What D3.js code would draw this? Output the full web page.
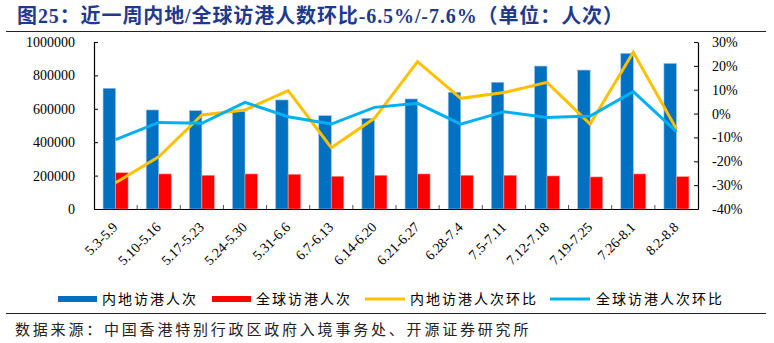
<!DOCTYPE html>
<html><head><meta charset="utf-8">
<script src="https://cdn.jsdelivr.net/npm/d3@7/dist/d3.min.js"></script>
<style>
html,body{margin:0;padding:0;background:#fff;}
svg{display:block;}
</style></head>
<body>
<svg id="c" width="774" height="343"></svg>
<script>
const categories = ["5.3-5.9","5.10-5.16","5.17-5.23","5.24-5.30","5.31-6.6","6.7-6.13","6.14-6.20","6.21-6.27","6.28-7.4","7.5-7.11","7.12-7.18","7.19-7.25","7.26-8.1","8.2-8.8"];
const mainlandVisitors = [723000,593000,589000,585000,653000,559000,543000,659000,699000,759000,856000,832000,932000,872000];
const globalVisitors = [217000,210000,202000,210000,208000,196000,202000,210000,202000,202000,198000,192000,210000,194000];
const mainlandWoW = [-29.0,-18.1,-0.6,1.5,9.6,-14.3,-2.0,21.8,6.4,8.8,13.1,-4.4,25.7,-6.5];
const globalWoW = [-10.9,-3.7,-4.1,4.7,-1.3,-4.4,2.6,4.3,-4.4,0.8,-1.6,-1.0,9.2,-7.6];
const leftTicks = [0,200000,400000,600000,800000,1000000];
const rightTicks = [-40,-30,-20,-10,0,10,20,30];
const seriesNames = ["内地访港人次","全球访港人次","内地访港人次环比","全球访港人次环比"];
const titleText = "图25：近一周内地/全球访港人数环比-6.5%/-7.6%（单位：人次）";
const sourceText = "数据来源：中国香港特别行政区政府入境事务处、开源证券研究所";

const colors = {blue:"#0070C0", red:"#FF0000", orange:"#FFC000", cyan:"#00B0F0"};
const svg = d3.select("#c");
const L = 94, R = 698, T = 42, B = 209;
const serif = "'Liberation Serif','Times New Roman',serif";
const cjk = "'Liberation Serif','Noto Sans CJK SC',serif";

// title
svg.append("text").attr("x",17).attr("y",23)
  .attr("font-family",cjk).attr("font-weight","bold").attr("font-size",20).attr("letter-spacing",0.9)
  .attr("fill","#1F3A8C").text(titleText);
svg.append("line").attr("x1",6).attr("x2",766).attr("y1",31.5).attr("y2",31.5)
  .attr("stroke","#222").attr("stroke-width",1.2);

const x = d3.scaleBand().domain(categories).range([L,R]).padding(0);
const yL = d3.scaleLinear().domain([0,1000000]).range([B,T]);
const yR = d3.scaleLinear().domain([-40,30]).range([B,T]);
const bw = x.bandwidth()*0.29;

// bars
svg.append("g").selectAll("rect").data(mainlandVisitors).join("rect")
  .attr("x",(d,i)=>x(categories[i])+x.bandwidth()/2-bw)
  .attr("y",d=>yL(d)).attr("width",bw).attr("height",d=>B-yL(d))
  .attr("fill",colors.blue).attr("stroke","#9DC3E6").attr("stroke-width",0.6);
svg.append("g").selectAll("rect").data(globalVisitors).join("rect")
  .attr("x",(d,i)=>x(categories[i])+x.bandwidth()/2)
  .attr("y",d=>yL(d)).attr("width",bw).attr("height",d=>B-yL(d))
  .attr("fill",colors.red).attr("stroke","#FF9999").attr("stroke-width",0.6);

// axes
const gl = svg.append("g").attr("transform",`translate(${L},0)`)
  .call(d3.axisLeft(yL).tickValues(leftTicks).tickFormat(d3.format("d")).tickSizeInner(-4).tickSizeOuter(0).tickPadding(19));
const gr = svg.append("g").attr("transform",`translate(${R},0)`)
  .call(d3.axisRight(yR).tickValues(rightTicks).tickFormat(d=>d+"%").tickSizeInner(-4).tickSizeOuter(0).tickPadding(14));
[gl,gr].forEach(g=>{
  g.selectAll("text").attr("font-family",serif).attr("font-size",14).attr("fill","#000");
  g.select(".domain").attr("stroke","#000").attr("stroke-width",1.2);
  g.selectAll(".tick line").attr("stroke","#000");
});
const gb = svg.append("g").attr("transform",`translate(0,${B})`)
  .call(d3.axisBottom(x).tickSize(0).tickFormat(""));
gb.select(".domain").attr("stroke","#000").attr("stroke-width",1.2);
// boundary ticks (inside)
svg.append("g").selectAll("line").data(categories.slice(1)).join("line")
  .attr("x1",d=>x(d)).attr("x2",d=>x(d)).attr("y1",B).attr("y2",B-4)
  .attr("stroke","#555").attr("stroke-width",1);
// x labels
svg.append("g").selectAll("text").data(categories).join("text")
  .attr("transform",d=>`translate(${x(d)+x.bandwidth()/2+3},${B+19}) rotate(-45)`)
  .attr("text-anchor","end").attr("font-family",serif).attr("font-size",14).attr("fill","#000")
  .text(d=>d);

// lines
const line = d3.line().x((d,i)=>x(categories[i])+x.bandwidth()/2).y(d=>yR(d));
svg.append("path").datum(mainlandWoW).attr("d",line).attr("fill","none")
  .attr("stroke",colors.orange).attr("stroke-width",3);
svg.append("path").datum(globalWoW).attr("d",line).attr("fill","none")
  .attr("stroke",colors.cyan).attr("stroke-width",3);

// legend
const lg = svg.append("g").attr("font-family","'Noto Sans CJK SC',sans-serif").attr("font-size",14).attr("fill","#000");
lg.append("rect").attr("x",58).attr("y",296).attr("width",39).attr("height",6).attr("fill",colors.blue);
lg.append("text").attr("x",102).attr("y",304).attr("letter-spacing",2).text(seriesNames[0]);
lg.append("rect").attr("x",212).attr("y",296).attr("width",39).attr("height",6).attr("fill",colors.red);
lg.append("text").attr("x",256).attr("y",304).attr("letter-spacing",2).text(seriesNames[1]);
lg.append("line").attr("x1",365).attr("x2",405).attr("y1",299).attr("y2",299).attr("stroke",colors.orange).attr("stroke-width",3);
lg.append("text").attr("x",410).attr("y",304).attr("letter-spacing",2).text(seriesNames[2]);
lg.append("line").attr("x1",550).attr("x2",590).attr("y1",299).attr("y2",299).attr("stroke",colors.cyan).attr("stroke-width",3);
lg.append("text").attr("x",596).attr("y",304).attr("letter-spacing",2).text(seriesNames[3]);

svg.append("line").attr("x1",6).attr("x2",766).attr("y1",313.5).attr("y2",313.5)
  .attr("stroke","#222").attr("stroke-width",1.2);
svg.append("text").attr("x",15).attr("y",335).attr("font-family","'Noto Sans CJK SC',sans-serif")
  .attr("font-size",15).attr("letter-spacing",2.8).attr("fill","#222").text(sourceText);
</script>
</body></html>
